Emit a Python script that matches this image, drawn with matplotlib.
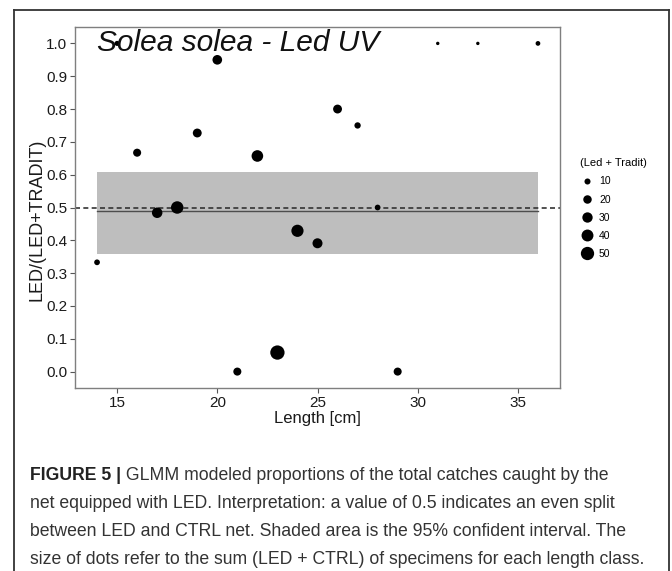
import numpy as np
import matplotlib
matplotlib.use("Agg")
import matplotlib.pyplot as plt
from matplotlib.lines import Line2D
from matplotlib import font_manager as fm

# ---------------- data ----------------
length = [14, 15, 16, 17, 18, 19, 20, 21, 22, 23, 24, 25, 26, 27, 28, 29, 31, 33, 36]
prop = [0.333, 1.0, 0.667, 0.484, 0.5, 0.727, 0.95, 0.0, 0.657, 0.058, 0.429,
        0.391, 0.8, 0.75, 0.5, 0.0, 1.0, 1.0, 1.0]
total = [9, 7, 18, 31, 44, 22, 26, 18, 38, 58, 42, 28, 22, 11, 9, 18, 3, 3, 6]
legend_breaks = [10, 20, 30, 40, 50]
ci_x = [14, 36]
ci_low = 0.358
ci_high = 0.609
fit_value = 0.488
ref_value = 0.5
yticks = [0.0, 0.1, 0.2, 0.3, 0.4, 0.5, 0.6, 0.7, 0.8, 0.9, 1.0]
xticks = [15, 20, 25, 30, 35]
title = "Solea solea - Led UV"
caption_bold = "FIGURE 5 |"
caption_lines = [
    " GLMM modeled proportions of the total catches caught by the",
    "net equipped with LED. Interpretation: a value of 0.5 indicates an even split",
    "between LED and CTRL net. Shaded area is the 95% confident interval. The",
    "size of dots refer to the sum (LED + CTRL) of specimens for each length class.",
]

W, H, DPI = 672, 571, 100
plt.rcParams['font.family'] = ['Liberation Sans', 'DejaVu Sans']


def diam_pt(n):
    n = np.asarray(n, dtype=float)
    d_px = 0.2 + 1.85 * np.sqrt(n)
    return d_px * 72.0 / DPI


fig = plt.figure(figsize=(W / DPI, H / DPI), dpi=DPI)


def fx(px):
    return px / W


def fy(py):
    return 1 - py / H


# outer frame
for xs, ys in [((14, 14), (10, 571)), ((14, 669), (10, 10)), ((669, 669), (10, 571))]:
    fig.add_artist(Line2D([fx(x) for x in xs], [fy(y) for y in ys], color='#333333', lw=1.3))

ax = fig.add_axes([fx(75), fy(388), fx(560) - fx(75), fy(27) - fy(388)])
ax.fill_between(ci_x, [ci_low] * 2, [ci_high] * 2, color='#bebebe', lw=0, zorder=1)
ax.plot(ci_x, [fit_value] * 2, color='#4d4d4d', lw=1.0, zorder=2)
ax.axhline(ref_value, color='#333333', lw=1.2, ls=(0, (3, 2)), zorder=2)
ax.scatter(length, prop, s=diam_pt(total) ** 2, color='black', lw=0, zorder=3)

ax.set_xlim(12.9, 37.1)
ax.set_ylim(-0.05, 1.05)
ax.set_xticks(xticks)
ax.set_yticks(yticks)
ax.set_yticklabels([f"{v:.1f}" for v in yticks])
for sp in ax.spines.values():
    sp.set_color('#7f7f7f')
    sp.set_linewidth(1.0)
ax.tick_params(axis='both', length=3.5, width=0.8, color='#555555', labelsize=11,
               labelcolor='#1a1a1a', pad=2)
ax.set_xlabel("Length [cm]", fontsize=12, labelpad=1, color='#1a1a1a')
ax.set_ylabel("LED/(LED+TRADIT)", fontsize=13, color='#1a1a1a')
ax.yaxis.set_label_coords(-0.06, 0.465)

ax.text(0.045, 0.995, title, transform=ax.transAxes, fontsize=21.5, style='italic',
        va='top', ha='left', color='#111111')

# legend
handles = [Line2D([], [], marker='o', ls='', color='black', markeredgewidth=0,
                  markersize=float(diam_pt(b))) for b in legend_breaks]
leg = fig.legend(handles, [str(b) for b in legend_breaks], title="(Led + Tradit)",
                 loc='upper left', bbox_to_anchor=(fx(573), fy(151)), frameon=False,
                 fontsize=7.5, title_fontsize=8, labelspacing=0.78, handletextpad=0.6,
                 handlelength=1.2, borderpad=0.2)
leg._legend_box.align = "left"

# caption
names = {f.name for f in fm.fontManager.ttflist}
cap_family = 'Liberation Sans Narrow' if 'Liberation Sans Narrow' in names else 'Liberation Sans'
fig.canvas.draw()
r = fig.canvas.get_renderer()
probe = fig.text(0, 0, caption_lines[3], fontsize=14, family=cap_family)
wpx = probe.get_window_extent(r).width
probe.remove()
cap_fs = 14 * 620.0 / wpx
line_y = [476, 504, 532, 559]
b = fig.text(fx(30), fy(line_y[0]), caption_bold, fontsize=cap_fs, family=cap_family,
             weight='bold', va='center', ha='left', color='#222222')
fig.canvas.draw()
bb = b.get_window_extent(r)
fig.text(bb.x1 / W, fy(line_y[0]), caption_lines[0], fontsize=cap_fs, family=cap_family,
         va='center', ha='left', color='#333333')
for t, yy in zip(caption_lines[1:], line_y[1:]):
    fig.text(fx(30), fy(yy), t, fontsize=cap_fs, family=cap_family, va='center',
             ha='left', color='#333333')

fig.savefig("out.png", dpi=DPI)
